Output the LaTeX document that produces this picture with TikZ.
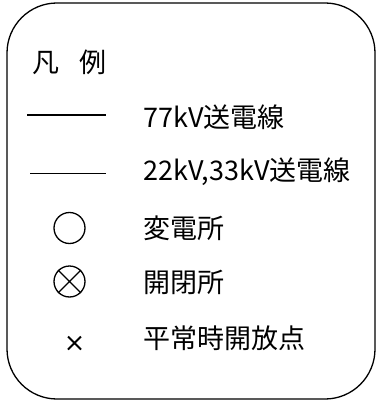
\documentclass[tikz,border=0pt]{standalone}
\usepackage{fontspec}
\setmainfont{Noto Sans CJK JP}
\begin{document}
\begin{tikzpicture}[x=1pt,y=-1pt,
  lbl/.style={anchor=west,inner sep=0pt,font=\fontsize{27}{30}\selectfont},
  sym/.style={draw,circle,minimum size=31pt,inner sep=0pt,line width=1.3pt}]
\useasboundingbox (0,0) rectangle (377,403);
\draw[line width=1.3pt,rounded corners=50pt] (7,3) rectangle (375,399);
\node[lbl] (title) at (32,62) {凡\hspace{20pt}例};
\coordinate (a1) at (27,115);
\coordinate (a2) at (106,115);
\draw[line width=1.6pt] (a1) -- (a2);
\node[lbl] (t1) at (143,117) {77kV送電線};
\coordinate (b1) at (30,173);
\coordinate (b2) at (106,173);
\draw[line width=0.9pt] (b1) -- (b2);
\node[lbl] (t2) at (143,172) {22kV,33kV送電線};
\node[sym] (ss) at (69.5,228) {};
\node[lbl] (t3) at (143,228) {変電所};
\node[sym] (sw) at (69.5,281.5) {};
\draw[line width=1.3pt] (sw.north west) -- (sw.south east) (sw.north east) -- (sw.south west);
\node[lbl] (t4) at (143,282) {開閉所};
\coordinate (xc) at (74.5,343);
\draw[line width=1.9pt] ([shift={(-6.5,-6.5)}]xc) -- ([shift={(6.5,6.5)}]xc)
  ([shift={(-6.5,6.5)}]xc) -- ([shift={(6.5,-6.5)}]xc);
\node[lbl] (t5) at (143,338) {平常時開放点};
\end{tikzpicture}
\end{document}
